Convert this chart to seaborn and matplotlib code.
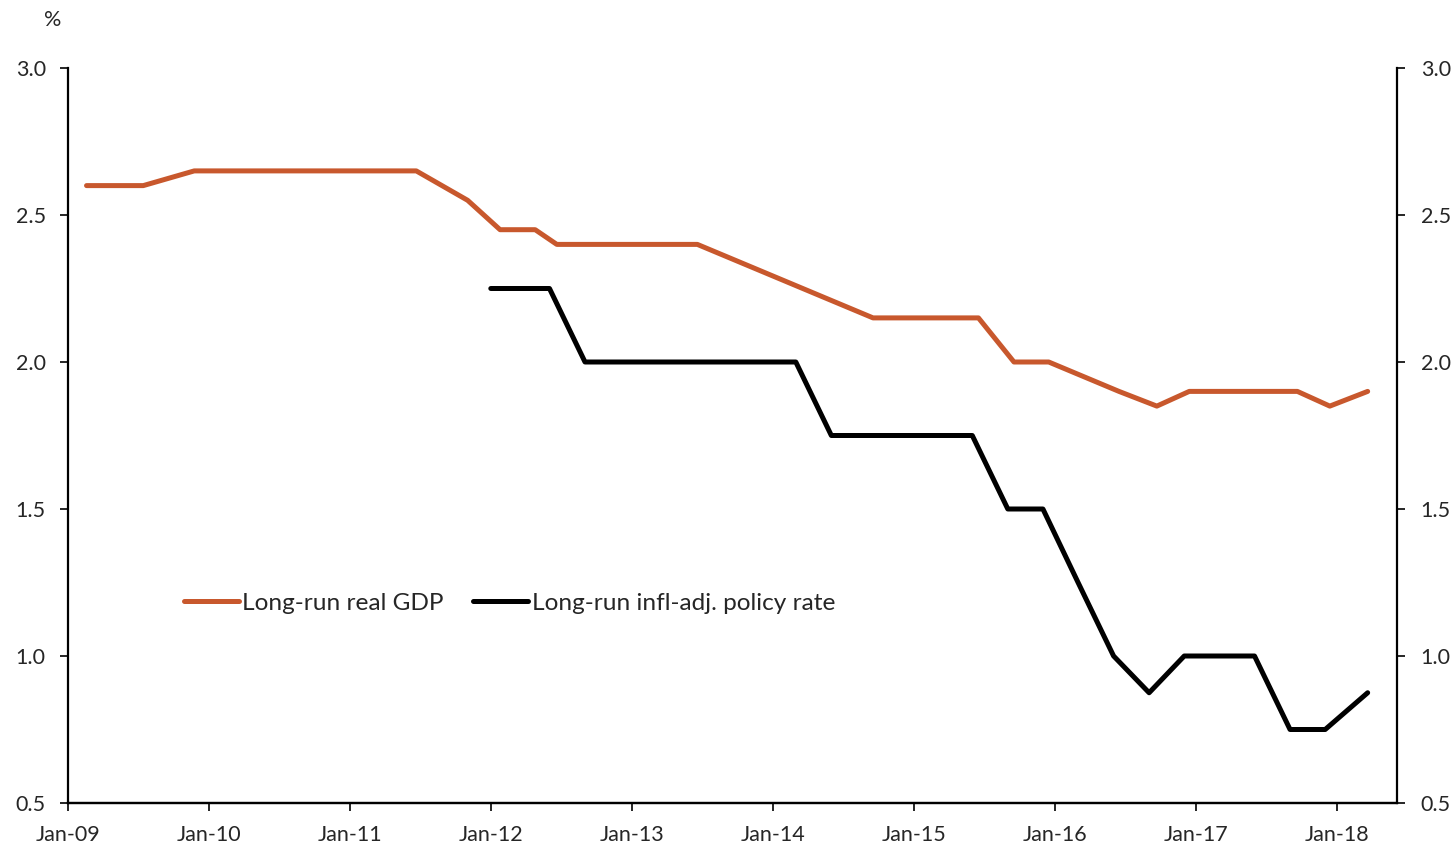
import matplotlib
matplotlib.use("Agg")
import matplotlib.pyplot as plt
import matplotlib.dates as mdates
import seaborn as sns
import pandas as pd

# Long-run real GDP (FOMC SEP median), release dates
gdp_dates = ["2009-02-18", "2009-05-20", "2009-07-15", "2009-11-24",
             "2010-02-17", "2010-05-19", "2010-07-14", "2010-11-23",
             "2011-02-16", "2011-04-27", "2011-06-22", "2011-11-02",
             "2012-01-25", "2012-04-25", "2012-06-20", "2012-09-13", "2012-12-12",
             "2013-03-20", "2013-06-19", "2013-09-18", "2013-12-18",
             "2014-03-19", "2014-06-18", "2014-09-17", "2014-12-17",
             "2015-03-18", "2015-06-17", "2015-09-17", "2015-12-16",
             "2016-03-16", "2016-06-15", "2016-09-21", "2016-12-14",
             "2017-03-15", "2017-06-14", "2017-09-20", "2017-12-13",
             "2018-03-21"]
gdp_values = [2.6, 2.6, 2.6, 2.65,
              2.65, 2.65, 2.65, 2.65,
              2.65, 2.65, 2.65, 2.55,
              2.45, 2.45, 2.4, 2.4, 2.4,
              2.4, 2.4, 2.35, 2.3,
              2.25, 2.2, 2.15, 2.15,
              2.15, 2.15, 2.0, 2.0,
              1.95, 1.9, 1.85, 1.9,
              1.9, 1.9, 1.9, 1.85,
              1.9]

# Long-run inflation-adjusted policy rate
rate_dates = ["2012-01-01", "2012-04-01", "2012-06-01", "2012-09-01", "2012-12-01",
              "2013-03-01", "2013-06-01", "2013-09-01", "2013-12-01",
              "2014-03-01", "2014-06-01", "2014-09-01", "2014-12-01",
              "2015-03-01", "2015-06-01", "2015-09-01", "2015-12-01",
              "2016-03-01", "2016-06-01", "2016-09-01", "2016-12-01",
              "2017-03-01", "2017-06-01", "2017-09-01", "2017-12-01",
              "2018-03-21"]
rate_values = [2.25, 2.25, 2.25, 2.0, 2.0,
               2.0, 2.0, 2.0, 2.0,
               2.0, 1.75, 1.75, 1.75,
               1.75, 1.75, 1.5, 1.5,
               1.25, 1.0, 0.875, 1.0,
               1.0, 1.0, 0.75, 0.75,
               0.875]

y_ticks = [0.5, 1.0, 1.5, 2.0, 2.5, 3.0]
x_ticks = ["2009-01-01", "2010-01-01", "2011-01-01", "2012-01-01", "2013-01-01",
           "2014-01-01", "2015-01-01", "2016-01-01", "2017-01-01", "2018-01-01"]

gdp_label = "Long-run real GDP"
rate_label = "Long-run infl-adj. policy rate"

sns.set_style("ticks")
plt.rcParams["font.family"] = ["Lato", "DejaVu Sans"]
plt.rcParams["font.size"] = 15

df_gdp = pd.DataFrame({"date": pd.to_datetime(gdp_dates), "value": gdp_values})
df_rate = pd.DataFrame({"date": pd.to_datetime(rate_dates), "value": rate_values})

fig = plt.figure(figsize=(14.52, 8.46), dpi=100)
ax = fig.add_axes([68 / 1452, 43 / 846, (1397 - 68) / 1452, (803 - 68) / 846])
ax2 = ax.twinx()

orange = "#C8582D"
sns.lineplot(data=df_gdp, x="date", y="value", ax=ax, color=orange, linewidth=3.6,
             label=gdp_label, legend=False)
sns.lineplot(data=df_rate, x="date", y="value", ax=ax2, color="black", linewidth=3.6,
             label=rate_label, legend=False)

for a in (ax, ax2):
    a.set_ylim(0.5, 3.0)
    a.set_yticks(y_ticks)
    a.set_yticklabels([f"{v:.1f}" for v in y_ticks])
    a.set_xlabel("")
    a.set_ylabel("")
    a.spines["top"].set_visible(False)
    for s in a.spines.values():
        s.set_linewidth(1.6)
        s.set_color("black")

ax.set_xlim(pd.Timestamp("2009-01-01"), pd.Timestamp("2018-06-05"))
ax.set_xticks(pd.to_datetime(x_ticks))
ax.xaxis.set_major_formatter(mdates.DateFormatter("%b-%y"))
ax.spines["right"].set_visible(False)
ax2.spines["left"].set_visible(False)
ax2.spines["right"].set_visible(True)

ax.tick_params(axis="y", direction="out", length=6, width=1.4, pad=10, labelsize=15.5)
ax.tick_params(axis="x", direction="out", length=6, width=1.4, pad=10, labelsize=15.5)
ax2.tick_params(axis="y", direction="out", length=6, width=1.4, pad=11, labelsize=15.5)

h1, l1 = ax.get_legend_handles_labels()
h2, l2 = ax2.get_legend_handles_labels()
leg = ax2.legend(h1 + h2, l1 + l2, ncol=2, frameon=False,
                 loc="center left", bbox_to_anchor=(0.087, 0.272),
                 handlelength=2.25, handletextpad=0.15, columnspacing=1.2,
                 fontsize=17.6, borderaxespad=0, borderpad=0)

fig.text(53 / 1452, 1 - 20 / 846, "%", ha="center", va="center", fontsize=15.5)

fig.savefig("out.png", dpi=100)
